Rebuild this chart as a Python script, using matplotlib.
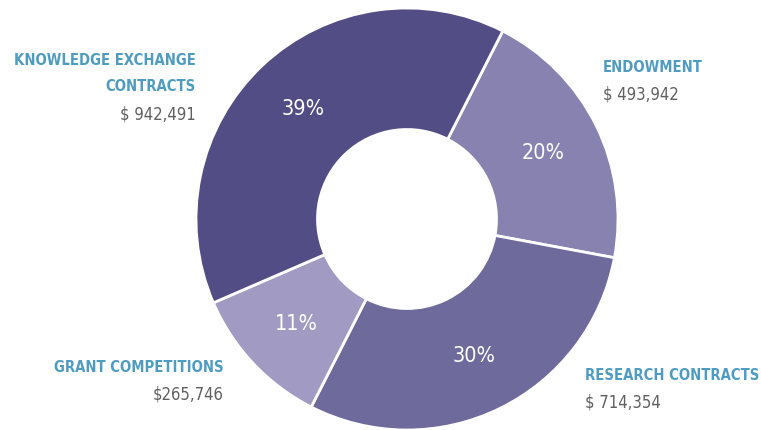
import matplotlib.pyplot as plt

names = ['ENDOWMENT', 'RESEARCH CONTRACTS', 'GRANT COMPETITIONS', 'KNOWLEDGE EXCHANGE\nCONTRACTS']
values = [493942, 714354, 265746, 942491]
amounts = ['$ 493,942', '$ 714,354', '$265,746', '$ 942,491']
colors = ['#8882b0', '#6f6a9c', '#a19bc4', '#524d85']

plt.rcParams['font.family'] = ['DejaVu Sans']
plt.rcParams['font.stretch'] = 'condensed'

fig = plt.figure(figsize=(7.61, 4.31), dpi=100)
ax = fig.add_axes([0, 0, 1, 1])

wedges, texts, autotexts = ax.pie(
    values, colors=colors, startangle=63, counterclock=False,
    center=(407, 431 - 220), radius=211, frame=True,
    autopct=lambda p: '%d%%' % round(p), pctdistance=0.72,
    wedgeprops=dict(width=121.5, edgecolor='white', linewidth=2),
    textprops=dict(color='white', fontsize=15.5))
ax.set_xlim(0, 761)
ax.set_ylim(0, 431)
ax.set_aspect('equal')
ax.axis('off')

blue = '#4f9cc2'
grey = '#606060'
# label positions (x, top y in pixels), alignment
spots = [(603, 67, 'left'), (585, 376, 'left'), (224, 368, 'right'), (196, 60, 'right')]
for (x, y, ha), name, amt in zip(spots, names, amounts):
    n = name.count('\n') + 1
    ax.text(x, 431 - y - 13.5 * (n - 1), name, ha=ha, va='center', color=blue, fontsize=10.6,
            fontweight='bold', linespacing=1.9)
    ax.text(x, 431 - (y + 27 * n), amt, ha=ha, va='center', color=grey, fontsize=12)

fig.savefig('out.png', dpi=100)
